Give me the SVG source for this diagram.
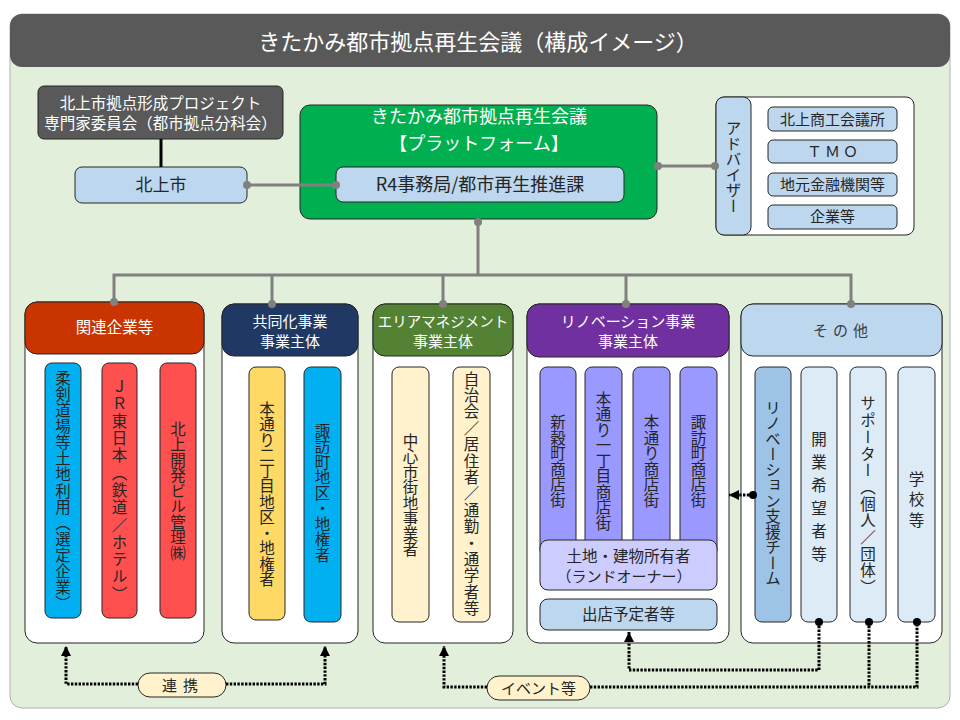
<svg xmlns="http://www.w3.org/2000/svg" width="960" height="720" viewBox="0 0 960 720">
<defs>
<style>
text{font-family:"Noto Sans CJK JP","Noto Sans",sans-serif;fill:#262626}
.w{fill:#fff}
.c{text-anchor:middle}
.v{writing-mode:tb;text-anchor:middle;font-size:15.5px}
.box{stroke:#262626;stroke-width:1}
.gl{stroke:#808080;stroke-width:3;fill:none}
.gd{fill:#808080}
.dl{stroke:#000;stroke-width:3;fill:none;stroke-dasharray:2.4 1.4}
.bd{fill:#000}
</style>
<marker id="ah" markerUnits="userSpaceOnUse" markerWidth="10" markerHeight="10" refX="10" refY="5" orient="auto">
<path d="M0,0 L10,5 L0,10 Z" fill="#000"/>
</marker>
</defs>
<rect width="960" height="720" fill="#fff"/>
<g id="frame">
<rect x="10" y="14" width="940" height="694" rx="12" fill="#e2efda" stroke="#b0b0b0"/>
<rect x="10" y="14" width="940" height="53" rx="12" fill="#595959"/>
<text class="w c" x="478" y="50" font-size="22">きたかみ都市拠点再生会議（構成イメージ）</text>
</g>
<g id="iinkai">
<rect class="box" x="38" y="86" width="245" height="53" rx="6" fill="#595959"/>
<text class="w c" x="160.5" y="109" font-size="15.5">北上市拠点形成プロジェクト</text>
<text class="w c" x="160.5" y="129" font-size="15.5">専門家委員会（都市拠点分科会）</text>
</g>
<g id="kitakami">
<rect class="box" x="75" y="167" width="172" height="36" rx="7" fill="#bdd7ee"/>
<text class="c" x="161" y="191" font-size="17">北上市</text>
</g>
<g id="platform">
<rect class="box" x="300" y="105" width="357" height="114" rx="10" fill="#00b050"/>
<text class="w c" x="479" y="123" font-size="18">きたかみ都市拠点再生会議</text>
<text class="w c" x="479" y="150" font-size="18">【プラットフォーム】</text>
<rect class="box" x="336" y="167" width="288" height="35" rx="7" fill="#bdd7ee"/>
<text class="c" x="480" y="191" font-size="18">R4事務局/都市再生推進課</text>
</g>
<g id="advisor">
<rect class="box" x="716" y="97" width="198" height="138" rx="8" fill="#fff"/>
<rect class="box" x="716" y="97" width="35" height="138" rx="8" fill="#bdd7ee"/>
<text class="v" x="733.5" y="167" font-size="15">アドバイザー</text>
<rect class="box" x="768" y="107" width="129" height="24" rx="5" fill="#bdd7ee"/>
<text class="c" x="832.5" y="125" font-size="15">北上商工会議所</text>
<rect class="box" x="768" y="140" width="129" height="23" rx="5" fill="#bdd7ee"/>
<text class="c" x="834" y="157" font-size="15" letter-spacing="3">ＴＭＯ</text>
<rect class="box" x="768" y="173" width="129" height="23" rx="5" fill="#bdd7ee"/>
<text class="c" x="832.5" y="190" font-size="15">地元金融機関等</text>
<rect class="box" x="768" y="205" width="129" height="24" rx="5" fill="#bdd7ee"/>
<text class="c" x="832.5" y="222" font-size="15">企業等</text>
</g>
<g id="kanren">
<rect class="box" x="25" y="302" width="179" height="341" rx="12" fill="#fff"/>
<rect class="box" x="25" y="302" width="179" height="52" rx="12" fill="#c93400"/>
<text class="w c" x="114.5" y="333" font-size="15.5">関連企業等</text>
<rect class="box" x="45" y="363" width="36" height="255" rx="7" fill="#00b0f0"/>
<text class="v" x="63" y="491" letter-spacing="0.6">柔剣道場等土地利用（選定企業）</text>
<rect class="box" x="102" y="363" width="35" height="255" rx="7" fill="#ff5050"/>
<text class="v" x="119.5" y="491" letter-spacing="1.8">ＪＲ東日本（鉄道／ホテル）</text>
<rect class="box" x="160" y="363" width="36" height="255" rx="7" fill="#ff5050"/>
<text class="v" x="178" y="491">北上開発ビル管理㈱</text>
</g>
<g id="kyodoka">
<rect class="box" x="222" y="304" width="136" height="339" rx="12" fill="#fff"/>
<rect class="box" x="222" y="304" width="136" height="52" rx="12" fill="#203864"/>
<text class="w c" x="290" y="327" font-size="15">共同化事業</text>
<text class="w c" x="290" y="347" font-size="15">事業主体</text>
<rect class="box" x="249" y="367" width="36" height="253" rx="7" fill="#ffd966"/>
<text class="v" x="267" y="494">本通り二丁目地区・地権者</text>
<rect class="box" x="304" y="367" width="37" height="255" rx="7" fill="#00b0f0"/>
<text class="v" x="322.5" y="493">諏訪町地区・地権者</text>
</g>
<g id="areamanagement">
<rect class="box" x="373" y="304" width="140" height="339" rx="12" fill="#fff"/>
<rect class="box" x="373" y="304" width="140" height="52" rx="12" fill="#548235"/>
<text class="w c" x="443" y="327" font-size="14.5">エリアマネジメント</text>
<text class="w c" x="443" y="347" font-size="15">事業主体</text>
<rect class="box" x="392" y="367" width="37" height="255" rx="7" fill="#fff2cc"/>
<text class="v" x="410.5" y="495">中心市街地事業者</text>
<rect class="box" x="453" y="367" width="37" height="255" rx="7" fill="#fff2cc"/>
<text class="v" x="471.5" y="494" letter-spacing="0.9">自治会／居住者／通勤・通学者等</text>
</g>
<g id="renovation">
<rect class="box" x="527" y="304" width="202" height="339" rx="12" fill="#fff"/>
<rect class="box" x="527" y="304" width="202" height="53" rx="12" fill="#7030a0"/>
<text class="w c" x="628" y="327" font-size="15">リノベーション事業</text>
<text class="w c" x="628" y="347" font-size="15">事業主体</text>
<rect class="box" x="540" y="367" width="36" height="190" rx="7" fill="#9999ff"/>
<text class="v" x="558" y="461">新穀町商店街</text>
<rect class="box" x="585" y="367" width="37" height="190" rx="7" fill="#9999ff"/>
<text class="v" x="603.5" y="461">本通り一丁目商店街</text>
<rect class="box" x="633" y="367" width="37" height="190" rx="7" fill="#9999ff"/>
<text class="v" x="651.5" y="461">本通り商店街</text>
<rect class="box" x="680" y="367" width="37" height="190" rx="7" fill="#9999ff"/>
<text class="v" x="698.5" y="461">諏訪町商店街</text>
<rect class="box" x="540" y="540" width="177" height="50" rx="8" fill="#ccccff"/>
<text class="c" x="628.5" y="562" font-size="15.5">土地・建物所有者</text>
<text class="c" x="624" y="582" font-size="15">（ランドオーナー）</text>
<rect class="box" x="540" y="599" width="177" height="31" rx="8" fill="#bdd7ee"/>
<text class="c" x="628.5" y="620" font-size="15.5">出店予定者等</text>
</g>
<g id="sonota">
<rect class="box" x="741" y="304" width="201" height="339" rx="12" fill="#fff"/>
<rect class="box" x="741" y="304" width="201" height="52" rx="12" fill="#bdd7ee"/>
<text class="c" x="843" y="336" font-size="15" letter-spacing="5" style="fill:#404040">その他</text>
<rect class="box" x="755" y="367" width="36" height="255" rx="7" fill="#9dc3e6"/>
<text class="v" x="773" y="493">リノベーション支援チーム</text>
<rect class="box" x="801" y="367" width="36" height="255" rx="7" fill="#ddebf7"/>
<text class="v" x="819" y="500" letter-spacing="7.5">開業希望者等</text>
<rect class="box" x="850" y="367" width="36" height="255" rx="7" fill="#ddebf7"/>
<text class="v" x="868" y="496" letter-spacing="1.2">サポーター（個人／団体）</text>
<rect class="box" x="898" y="367" width="37" height="255" rx="7" fill="#ddebf7"/>
<text class="v" x="916.5" y="502" letter-spacing="5">学校等</text>
</g>
<g id="renkei">
<rect class="box" x="138" y="673" width="88" height="24" rx="12" fill="#fff2cc"/>
<text class="c" x="183" y="691" font-size="15" letter-spacing="6">連携</text>
</g>
<g id="event">
<rect class="box" x="487" y="676" width="103" height="24" rx="12" fill="#fff2cc"/>
<text class="c" x="538.5" y="694" font-size="15">イベント等</text>
</g>
<g id="connectors">
<line class="gl" x1="161" y1="139" x2="161" y2="167" style="stroke:#000"/>
<line class="gl" x1="247" y1="185" x2="336" y2="185"/>
<circle class="gd" cx="247" cy="185" r="4"/><circle class="gd" cx="336" cy="185" r="4"/>
<line class="gl" x1="657" y1="166" x2="716" y2="166"/>
<circle class="gd" cx="658" cy="166" r="4"/><circle class="gd" cx="715" cy="166" r="4"/>
<path class="gl" d="M478,220 V275 M114,302 V275 H851 V304 M272,275 V304 M443,275 V304 M626,275 V304"/>
<circle class="gd" cx="478" cy="222" r="4"/>
<circle class="gd" cx="114" cy="302" r="4"/><circle class="gd" cx="272" cy="304" r="4"/><circle class="gd" cx="443" cy="304" r="4"/><circle class="gd" cx="626" cy="304" r="4"/><circle class="gd" cx="851" cy="304" r="4"/>
<path class="dl" d="M138,684 H66 V646" marker-end="url(#ah)"/>
<path class="dl" d="M226,684 H325 V646" marker-end="url(#ah)"/>
<path class="dl" d="M487,687 H444 V646" marker-end="url(#ah)"/>
<path class="dl" d="M590,687 H917 V622 M869,622 V687"/>
<path class="dl" d="M819,622 V670 H629 V632" marker-end="url(#ah)"/>
<path class="dl" d="M753,495 H729" marker-end="url(#ah)"/>
<circle class="bd" cx="819" cy="622" r="4"/><circle class="bd" cx="869" cy="622" r="4"/><circle class="bd" cx="917" cy="622" r="4"/><circle class="bd" cx="753" cy="495" r="4"/>
</g>
</svg>
